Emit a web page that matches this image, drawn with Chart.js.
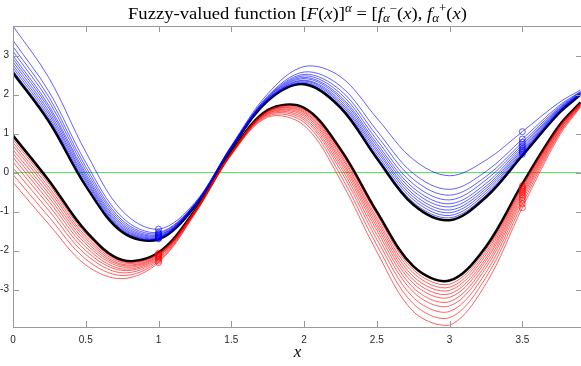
<!DOCTYPE html>
<html>
<head>
<meta charset="utf-8">
<title>Fuzzy-valued function</title>
<script src="https://cdn.jsdelivr.net/npm/chart.js@4.4.1/dist/chart.umd.min.js"></script>
<style>
  html, body { margin: 0; padding: 0; background: #fff; overflow: hidden; }
  canvas { display: block; }
</style>
</head>
<body>
<canvas id="chart" width="600" height="366"></canvas>
<script>
const xs = [0, 0.25, 0.5, 0.75, 1, 1.25, 1.5, 1.75, 2, 2.25, 2.5, 2.75, 3, 3.25, 3.5, 3.75, 3.9];

// alpha = 1 (black)
const upperCore = [2.56, 1.29, -0.34, -1.52, -1.71, -0.86, 0.62, 1.84, 2.27, 1.67, 0.37, -0.82, -1.22, -0.63, 0.44, 1.52, 2.0];
const lowerCore = [0.95, -0.22, -1.5, -2.24, -2.05, -0.97, 0.52, 1.6, 1.66, 0.6, -1.0, -2.4, -2.77, -1.9, -0.29, 1.19, 1.8];

// f+ for alpha = 0 ... 0.9 (blue)
const upperAlpha = [
  [3.76, 2.41, 0.53, -0.98, -1.45, -0.77, 0.69, 2.02, 2.72, 2.46, 1.40, 0.34, -0.08, 0.32, 1.05, 1.79, 2.12],
  [3.39, 2.06, 0.26, -1.15, -1.53, -0.80, 0.67, 1.96, 2.58, 2.22, 1.08, -0.02, -0.43, 0.03, 0.86, 1.71, 2.08],
  [3.23, 1.92, 0.15, -1.22, -1.56, -0.81, 0.66, 1.94, 2.52, 2.11, 0.95, -0.17, -0.58, -0.10, 0.78, 1.67, 2.07],
  [3.11, 1.81, 0.06, -1.27, -1.59, -0.82, 0.65, 1.92, 2.48, 2.03, 0.84, -0.29, -0.70, -0.19, 0.72, 1.64, 2.06],
  [3.00, 1.70, -0.02, -1.32, -1.61, -0.83, 0.65, 1.91, 2.44, 1.96, 0.75, -0.39, -0.80, -0.28, 0.67, 1.62, 2.04],
  [2.92, 1.63, -0.08, -1.36, -1.63, -0.83, 0.64, 1.89, 2.41, 1.91, 0.68, -0.47, -0.88, -0.35, 0.62, 1.60, 2.04],
  [2.84, 1.55, -0.14, -1.40, -1.65, -0.84, 0.64, 1.88, 2.37, 1.85, 0.61, -0.55, -0.96, -0.41, 0.58, 1.58, 2.03],
  [2.76, 1.48, -0.19, -1.43, -1.67, -0.85, 0.63, 1.87, 2.35, 1.80, 0.55, -0.62, -1.03, -0.47, 0.54, 1.57, 2.02],
  [2.69, 1.41, -0.24, -1.46, -1.68, -0.85, 0.63, 1.86, 2.32, 1.76, 0.48, -0.69, -1.10, -0.53, 0.51, 1.55, 2.01],
  [2.62, 1.35, -0.30, -1.49, -1.70, -0.86, 0.62, 1.85, 2.29, 1.71, 0.42, -0.76, -1.16, -0.58, 0.47, 1.53, 2.01]
];

// f- for alpha = 0 ... 0.9 (red)
const lowerAlpha = [
  [-0.25, -1.34, -2.37, -2.72, -2.31, -1.06, 0.45, 1.42, 1.21, -0.19, -2.03, -3.56, -3.91, -2.85, -0.90, 0.92, 1.68],
  [-0.05, -1.15, -2.22, -2.64, -2.27, -1.05, 0.46, 1.45, 1.29, -0.06, -1.86, -3.36, -3.72, -2.69, -0.80, 0.97, 1.70],
  [0.12, -0.99, -2.10, -2.57, -2.23, -1.03, 0.47, 1.48, 1.35, 0.06, -1.71, -3.20, -3.56, -2.56, -0.71, 1.00, 1.72],
  [0.27, -0.86, -2.00, -2.51, -2.20, -1.02, 0.48, 1.50, 1.40, 0.15, -1.59, -3.06, -3.42, -2.44, -0.64, 1.04, 1.73],
  [0.39, -0.75, -1.91, -2.47, -2.17, -1.01, 0.49, 1.52, 1.45, 0.23, -1.48, -2.95, -3.31, -2.35, -0.58, 1.06, 1.74],
  [0.49, -0.65, -1.83, -2.42, -2.15, -1.00, 0.49, 1.53, 1.49, 0.30, -1.39, -2.84, -3.20, -2.26, -0.52, 1.09, 1.75],
  [0.59, -0.56, -1.76, -2.38, -2.13, -1.00, 0.50, 1.55, 1.53, 0.36, -1.31, -2.75, -3.11, -2.19, -0.47, 1.11, 1.76],
  [0.69, -0.47, -1.69, -2.35, -2.11, -0.99, 0.51, 1.56, 1.56, 0.43, -1.23, -2.66, -3.02, -2.11, -0.42, 1.13, 1.77],
  [0.77, -0.39, -1.63, -2.31, -2.09, -0.98, 0.51, 1.57, 1.59, 0.48, -1.16, -2.57, -2.94, -2.04, -0.38, 1.15, 1.78],
  [0.85, -0.31, -1.57, -2.28, -2.07, -0.98, 0.51, 1.59, 1.62, 0.54, -1.08, -2.49, -2.86, -1.98, -0.34, 1.17, 1.79]
];

// circles are drawn at these x
const markAt = [1, 3.5];

const xTicks = [0, 0.5, 1, 1.5, 2, 2.5, 3, 3.5];
const yTicks = [-3, -2, -1, 0, 1, 2, 3];
const xRange = [0, 3.91];
const yRange = [-3.96, 3.76];

const pts = ys => ys.map((y, i) => ({ x: xs[i], y: y }));
const markRadius = c => markAt.includes(xs[c.dataIndex]) ? 3 : 0;

function cutLine(ys, color) {
  return {
    data: pts(ys),
    borderColor: color,
    borderWidth: 1,
    pointRadius: markRadius,
    pointBorderColor: color,
    pointBackgroundColor: 'rgba(0,0,0,0)',
    pointBorderWidth: 1,
    order: 0
  };
}

const datasets = [];
upperAlpha.forEach(ys => datasets.push(cutLine(ys, 'rgba(0,0,255,0.62)')));
lowerAlpha.forEach(ys => datasets.push(cutLine(ys, 'rgba(255,0,0,0.62)')));
[upperCore, lowerCore].forEach(ys => {
  datasets.push({ data: pts(ys), borderColor: '#000', borderWidth: 2.6, pointRadius: 0, order: 2 });
});
datasets.push({
  data: [{ x: xs[0], y: 0 }, { x: xs[xs.length - 1], y: 0 }],
  borderColor: 'rgb(80,225,80)', borderWidth: 1, pointRadius: 0, tension: 0, order: 3
});

// title pieces: [text, italic, shift] ; shift: 0 normal, 1 superscript, -1 subscript
const titleParts = [
  ['Fuzzy-valued function [', false, 0], ['F', true, 0], ['(', false, 0], ['x', true, 0], [')]', false, 0],
  ['\u03b1', true, 1], [' = [', false, 0], ['f', true, 0], ['\u03b1', true, -1], ['\u2212', false, 1],
  ['(', false, 0], ['x', true, 0], ['), ', false, 0], ['f', true, 0], ['\u03b1', true, -1], ['+', false, 1],
  ['(', false, 0], ['x', true, 0], [')', false, 0]
];
const titleWidth = 339;

const serif = '"Liberation Serif", "DejaVu Serif", serif';

function partFont(p, size) {
  const s = p[2] === 0 ? size : size * 0.7;
  return (p[1] ? 'italic ' : '') + s.toFixed(1) + 'px ' + serif;
}

function drawTitle(ctx, cx, baseline, size) {
  let w = 0;
  titleParts.forEach(p => { ctx.font = partFont(p, size); w += ctx.measureText(p[0]).width; });
  const k = titleWidth / w;
  ctx.save();
  ctx.translate(cx - titleWidth / 2, baseline);
  ctx.scale(k, 1);
  let xpos = 0;
  titleParts.forEach(p => {
    ctx.font = partFont(p, size);
    const dy = p[2] === 1 ? -size * 0.42 : (p[2] === -1 ? size * 0.22 : 0);
    ctx.fillText(p[0], xpos, dy);
    xpos += ctx.measureText(p[0]).width;
  });
  ctx.restore();
}

const matlabAxes = {
  id: 'matlabAxes',
  afterDraw(chart) {
    const { ctx, chartArea: a, scales: { x, y } } = chart;
    ctx.save();
    ctx.strokeStyle = '#9a9a9a';
    ctx.lineWidth = 1;
    ctx.strokeRect(Math.round(a.left) + 0.5, Math.round(a.top) + 0.5,
      Math.round(a.right - a.left), Math.round(a.bottom - a.top));
    ctx.beginPath();
    xTicks.forEach(v => {
      const px = Math.round(x.getPixelForValue(v)) + 0.5;
      ctx.moveTo(px, a.bottom); ctx.lineTo(px, a.bottom - 6);
      ctx.moveTo(px, a.top); ctx.lineTo(px, a.top + 6);
    });
    yTicks.forEach(v => {
      const py = Math.round(y.getPixelForValue(v)) + 0.5;
      ctx.moveTo(a.left, py); ctx.lineTo(a.left + 6, py);
      ctx.moveTo(a.right, py); ctx.lineTo(a.right - 6, py);
    });
    ctx.stroke();

    ctx.fillStyle = '#262626';
    ctx.font = '10px "Liberation Sans", Arial, sans-serif';
    ctx.textBaseline = 'middle';
    ctx.textAlign = 'center';
    xTicks.forEach(v => ctx.fillText(String(v), x.getPixelForValue(v), a.bottom + 13));
    ctx.textAlign = 'right';
    yTicks.forEach(v => ctx.fillText(String(v), a.left - 4, y.getPixelForValue(v)));

    ctx.fillStyle = '#000';
    ctx.textAlign = 'left';
    ctx.textBaseline = 'alphabetic';
    const cx = (a.left + a.right) / 2;
    drawTitle(ctx, cx, 18.5, 16.5);
    ctx.textAlign = 'center';
    ctx.font = 'italic 17px ' + serif;
    ctx.fillText('x', cx, 357);
    ctx.restore();
  }
};

const ctx = document.getElementById('chart');

new Chart(ctx, {
  type: 'line',
  data: { datasets: datasets },
  options: {
    responsive: false,
    animation: false,
    devicePixelRatio: 1,
    layout: { padding: { left: 13, right: 18, top: 26, bottom: 39 } },
    elements: { line: { tension: 0.35 } },
    plugins: { legend: { display: false }, tooltip: { enabled: false } },
    scales: {
      x: { type: 'linear', min: xRange[0], max: xRange[1], display: false },
      y: { type: 'linear', min: yRange[0], max: yRange[1], display: false }
    }
  },
  plugins: [matlabAxes]
});
</script>
</body>
</html>
